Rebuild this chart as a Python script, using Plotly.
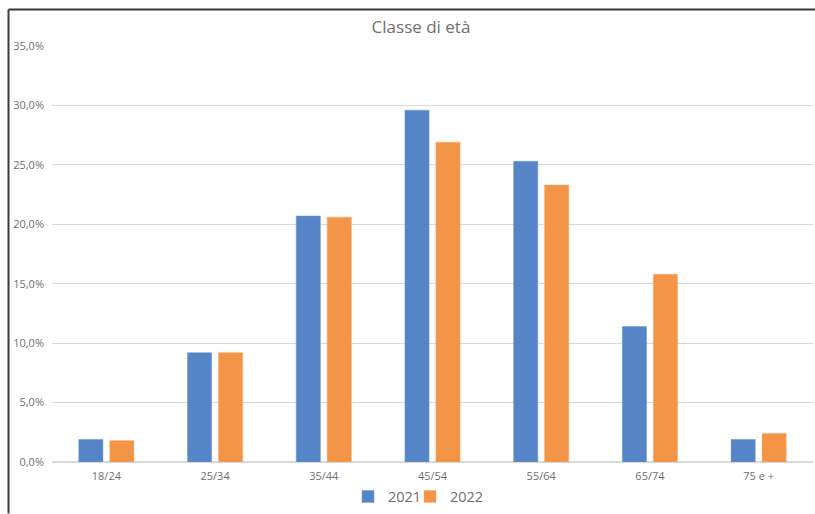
import plotly.graph_objects as go

categories = ["18/24", "25/34", "35/44", "45/54", "55/64", "65/74", "75 e +"]
values_2021 = [1.9, 9.2, 20.7, 29.6, 25.3, 11.4, 1.9]
values_2022 = [1.8, 9.2, 20.6, 26.9, 23.3, 15.8, 2.4]
y_ticks = [0, 5, 10, 15, 20, 25, 30, 35]
y_tick_labels = [f"{v:.1f}%".replace(".", ",") for v in y_ticks]

W, H = 815, 514
L, R, T, B = 52, 2, 46, 51.5
pw = W - L - R
ph = H - T - B

def px_x(px):
    return (px - L) / pw

def px_y(py):
    return (H - B - py) / ph

fig = go.Figure()
fig.add_trace(go.Bar(name="2021", x=categories, y=values_2021, legend="legend",
                     marker=dict(color="#5585C6", line=dict(color="#6F9AD2", width=0.5))))
fig.add_trace(go.Bar(name="2022", x=categories, y=values_2022, legend="legend2",
                     marker=dict(color="#F39446", line=dict(color="#F6AB70", width=0.5))))

font_family = "Open Sans, Noto Sans, sans-serif"
legend_style = dict(orientation="h", xanchor="left", y=px_y(497), yanchor="middle",
                    font=dict(size=14.5, color="#707070"), itemwidth=30,
                    bgcolor="rgba(0,0,0,0)")
fig.update_layout(
    width=W, height=H,
    margin=dict(l=L, r=R, t=T, b=B, pad=0),
    paper_bgcolor="white", plot_bgcolor="white",
    separators=",.",
    barmode="group", bargap=0.43, bargroupgap=0.22,
    title=dict(text="Classe di età", x=421 / W, xref="container", xanchor="center",
               y=1 - 27 / H, yref="container", yanchor="middle",
               font=dict(family=font_family, size=17, color="#707070")),
    font=dict(family=font_family, color="#707070"),
    showlegend=True,
    legend=dict(x=px_x(348), **legend_style),
    legend2=dict(x=px_x(410), **legend_style),
    xaxis=dict(showgrid=False, showline=False, zeroline=False, ticks="",
               tickfont=dict(size=11, color="#707070"), ticklabelstandoff=6),
    yaxis=dict(range=[0, 35], tickvals=y_ticks, ticktext=y_tick_labels,
               showgrid=True, gridcolor="#D9D9D9", gridwidth=1,
               zeroline=True, zerolinecolor="#D9D9D9", zerolinewidth=1.5,
               showline=False, ticks="", tickfont=dict(size=11, color="#707070"),
               ticklabelstandoff=7),
)

# chart frame (left and top edges)
fig.add_shape(type="line", xref="paper", yref="paper",
              x0=px_x(8.5), x1=px_x(815), y0=px_y(9.5), y1=px_y(9.5),
              line=dict(color="#3A3A3A", width=2))
fig.add_shape(type="line", xref="paper", yref="paper",
              x0=px_x(8.5), x1=px_x(8.5), y0=px_y(9.5), y1=px_y(514),
              line=dict(color="#3A3A3A", width=2))

fig.write_html("out.html")
